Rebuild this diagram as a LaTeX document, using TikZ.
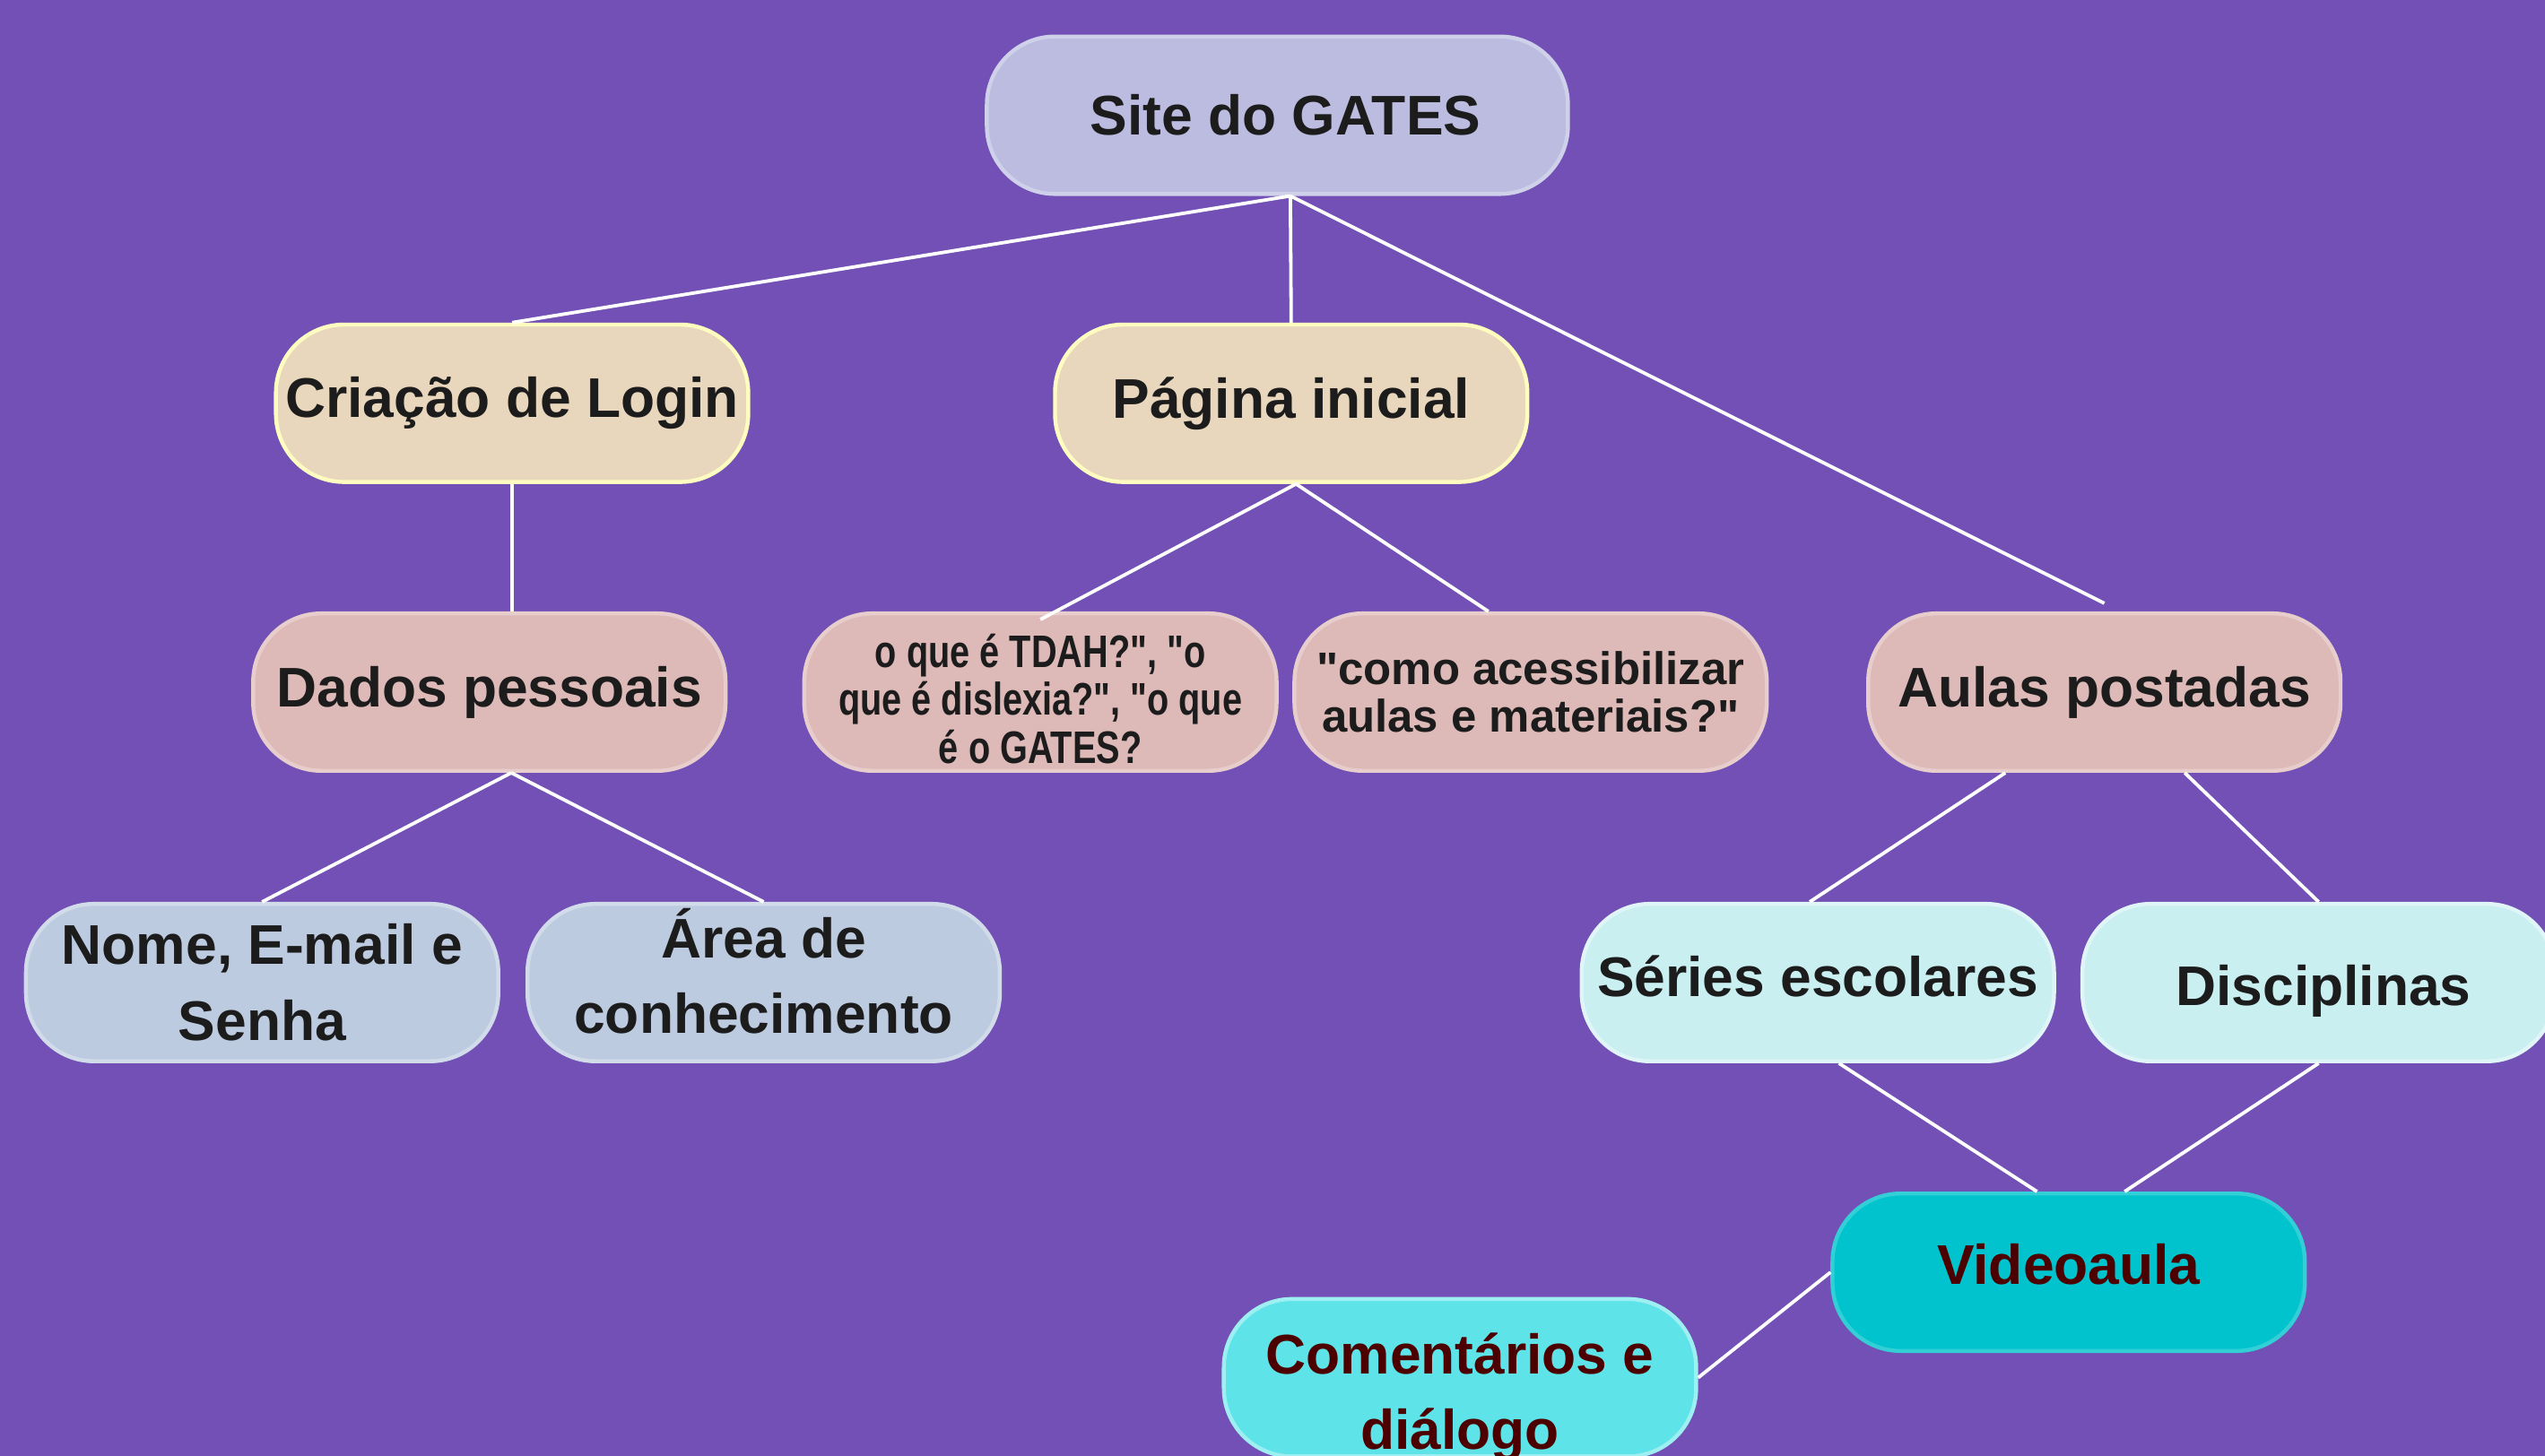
\documentclass[tikz,border=0pt]{standalone}
\usepackage{fontspec}
\setmainfont{Liberation Sans}
\newfontfamily\plainfont{Liberation Sans}
\newfontfamily\narrowfont{Liberation Sans}[FakeStretch=0.78]
\usepackage{xcolor}
\usepackage{tikz}
\newcommand{\dq}{\char"22\relax}
\newcommand{\up}[2]{\raisebox{#1}[\height][\depth]{#2}}
\definecolor{bg}{HTML}{7250B5}
\definecolor{ink}{HTML}{1C1C1C}
\definecolor{lilac}{HTML}{BBBCE0}
\definecolor{sand}{HTML}{E8D7BC}
\definecolor{rose}{HTML}{DDB9B8}
\definecolor{steel}{HTML}{BDCBE0}
\definecolor{ice}{HTML}{C9EFF1}
\definecolor{teal}{HTML}{00C3CD}
\definecolor{aqua}{HTML}{5EE4E8}
\tikzset{
  box/.style={rounded corners=0.42cm, minimum width=2.91cm, minimum height=0.97cm,
    inner sep=0pt, align=center, text=ink, line width=0.7pt,
    font=\bfseries\fontsize{9.8}{13.3}\selectfont},
  small/.style={font=\plainfont\bfseries\fontsize{8}{8.4}\selectfont},
  narrow/.style={font=\narrowfont\bfseries\fontsize{8}{8.4}\selectfont},
  top/.style={box, minimum width=3.58cm, fill=lilac, draw=lilac!70!white},
  lvla/.style={box, fill=sand, draw=yellow!25!white},
  lvlb/.style={box, fill=rose, draw=rose!70!white},
  lvlc/.style={box, fill=steel, draw=steel!70!white},
  lvld/.style={box, fill=ice, draw=ice!60!white},
  vid/.style={box, fill=teal, draw=teal!80!white, text=black!70!red},
  com/.style={box, fill=aqua, draw=aqua!60!white, text=black!70!red},
  link/.style={draw=white, line width=0.6pt},
}
\begin{document}
\begin{tikzpicture}
  \useasboundingbox (0,0) rectangle (15.68,-8.97);
  \clip (0,0) rectangle (15.68,-8.97);
  \fill[bg] (0,0) rectangle (15.68,-8.97);
  % nodes
  \node[top] (site) at (7.87,-0.71) {\hspace*{1mm}Site do GATES};
  \node[lvla] (login) at (3.155,-2.485) {Criação de Login};
  \node[lvla] (home) at (7.955,-2.485) {Página inicial};
  \node[lvlb] (dados) at (3.015,-4.265) {Dados pessoais};
  \node[lvlb, narrow] (faq) at (6.41,-4.265)
    {\up{-0.4mm}{o que é TDAH?\dq, \dq o}\\\up{-0.4mm}{que é dislexia?\dq, \dq o que}\\\up{-0.4mm}{é o GATES?}};
  \node[lvlb, small] (acess) at (9.43,-4.265)
    {\dq como acessibilizar\\aulas e materiais?\dq};
  \node[lvlb] (aulas) at (12.965,-4.265) {Aulas postadas};
  \node[lvlc] (nome) at (1.615,-6.055) {Nome, E-mail e\\Senha};
  \node[lvlc] (area) at (4.705,-6.055) {\up{0.7mm}{Área de}\\\up{0.7mm}{conhecimento}};
  \node[lvld] (series) at (11.20,-6.055) {\up{0.4mm}{Séries escolares}};
  \node[lvld] (disc) at (14.285,-6.055) {\up{-0.5mm}{\hspace*{0.6mm}Disciplinas}};
  \node[vid] (video) at (12.745,-7.84) {\up{0.5mm}{Videoaula}};
  \node[com] (coment) at (8.995,-8.49) {\up{-1.2mm}{Comentários e}\\\up{-1.2mm}{diálogo}};
  % links
  \draw[link] ([xshift=0.8mm]site.south) -- (login.north);
  \draw[link] ([xshift=0.8mm]site.south) -- (home.north);
  \draw[link] ([xshift=0.8mm]site.south) -- ([yshift=0.5mm]aulas.north);
  \draw[link] (login.south) -- ([xshift=1.4mm]dados.north);
  \draw[link] ([xshift=1.35mm]dados.south) -- (nome.north);
  \draw[link] ([xshift=1.35mm]dados.south) -- (area.north);
  \draw[link] ([xshift=0.3mm]home.south) -- ([yshift=-0.5mm]faq.north);
  \draw[link] ([xshift=0.3mm]home.south) -- ([xshift=-2.6mm]acess.north);
  \draw[link] ([xshift=-6.1mm]aulas.south) -- ([xshift=-0.5mm]series.north);
  \draw[link] ([xshift=4.95mm]aulas.south) -- (disc.north);
  \draw[link] ([xshift=1.3mm]series.south) -- ([xshift=-1.95mm]video.north);
  \draw[link] (disc.south) -- ([xshift=3.45mm]video.north);
  \draw[link] (video.west) -- (coment.east);
\end{tikzpicture}
\end{document}
